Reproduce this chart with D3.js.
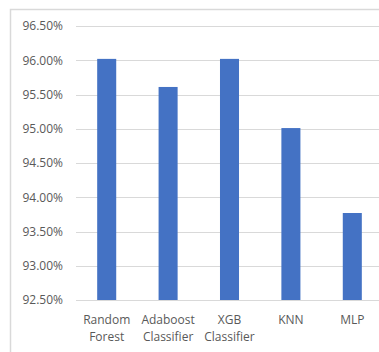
<!DOCTYPE html>
<html>
<head>
<meta charset="utf-8">
<script src="https://cdn.jsdelivr.net/npm/d3@7"></script>
<style>
  html, body { margin: 0; padding: 0; background: #fff; }
  svg { display: block; }
  text { font-family: "Open Sans", "Noto Sans", sans-serif; fill: #595959; }
</style>
</head>
<body>
<svg id="chart" width="379" height="352"></svg>
<script>
// Model accuracy by classifier
const categories = [["Random", "Forest"], ["Adaboost", "Classifier"], ["XGB", "Classifier"], ["KNN"], ["MLP"]];
const accuracy = [96.02, 95.61, 96.02, 95.01, 93.77];
const yTicks = [92.5, 93.0, 93.5, 94.0, 94.5, 95.0, 95.5, 96.0, 96.5];

const svg = d3.select("#chart");
const W = 379, H = 352;
const plot = { left: 76, right: 383, top: 26, bottom: 300 };

const keys = categories.map(c => c.join(" "));
const x = d3.scaleBand().domain(keys).range([plot.left, plot.right])
  .paddingInner(0.69).paddingOuter(0.345);
const y = d3.scaleLinear().domain([92.5, 96.5]).range([plot.bottom, plot.top]);

// chart frame (left and top edges)
svg.append("path")
  .attr("d", `M10.5,${H} V9.5 H${W}`)
  .attr("fill", "none").attr("stroke", "#d9d9d9").attr("stroke-width", 1.5);

// gridlines
svg.append("g").selectAll("line").data(yTicks).join("line")
  .attr("x1", plot.left).attr("x2", W)
  .attr("y1", d => Math.round(y(d)) + 0.5).attr("y2", d => Math.round(y(d)) + 0.5)
  .attr("stroke", "#d9d9d9").attr("stroke-width", 1.2);

// y axis labels
const yAxis = d3.axisLeft(y).tickValues(yTicks)
  .tickFormat(d => d.toFixed(2) + "%").tickSize(0).tickPadding(0);
svg.append("g").attr("transform", "translate(63,0)").call(yAxis)
  .call(g => g.select(".domain").remove())
  .call(g => g.selectAll("text").attr("font-size", 12).attr("fill", "#595959")
    .attr("font-family", "'Open Sans', 'Noto Sans', sans-serif"));

// bars
svg.append("g").selectAll("rect").data(accuracy).join("rect")
  .attr("x", (d, i) => x(keys[i]))
  .attr("width", x.bandwidth())
  .attr("y", d => y(d))
  .attr("height", d => y(92.5) - y(d))
  .attr("fill", "#4472c4");

// category labels
const labels = svg.append("g").selectAll("text").data(categories).join("text")
  .attr("text-anchor", "middle")
  .attr("font-size", 12)
  .attr("x", (d, i) => x(keys[i]) + x.bandwidth() / 2)
  .attr("y", 324);
labels.selectAll("tspan").data(d => d).join("tspan")
  .attr("x", function() { return this.parentNode.getAttribute("x"); })
  .attr("dy", (d, i) => i === 0 ? 0 : 17)
  .text(d => d);
</script>
</body>
</html>
